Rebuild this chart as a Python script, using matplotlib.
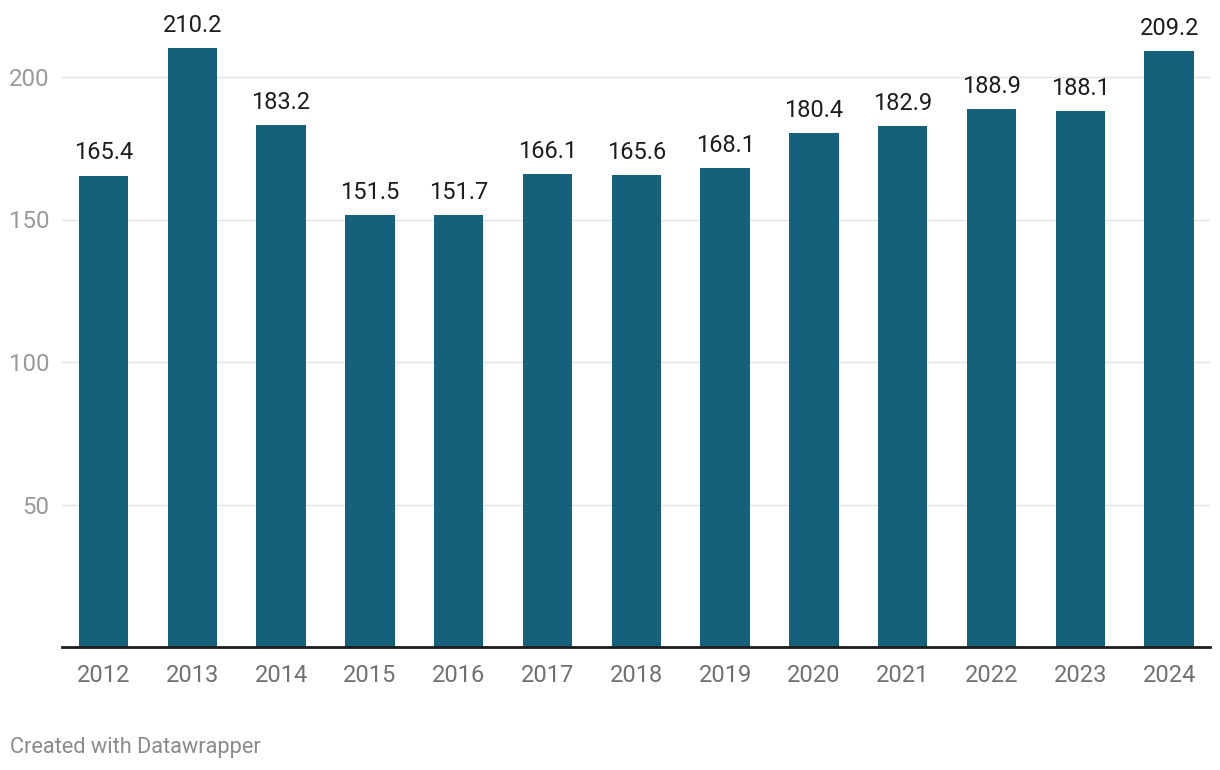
import matplotlib
matplotlib.use("Agg")
from matplotlib import pyplot as plt

# data
years = ["2012", "2013", "2014", "2015", "2016", "2017", "2018",
         "2019", "2020", "2021", "2022", "2023", "2024"]
values = [165.4, 210.2, 183.2, 151.5, 151.7, 166.1, 165.6,
          168.1, 180.4, 182.9, 188.9, 188.1, 209.2]
yticks = [50, 100, 150, 200]

plt.rcParams['font.family'] = ['Roboto', 'DejaVu Sans']

fig = plt.figure(figsize=(12.2, 7.7), dpi=100)
ax = fig.add_axes([62 / 1220, 123 / 770, 1148 / 1220, 627 / 770])

x = list(range(len(years)))
ax.bar(x, values, width=0.557, color='#15607a', zorder=3)

for xi, v in zip(x, values):
    ax.annotate(f"{v:.1f}", (xi, v), xytext=(0, 8), textcoords='offset points',
                ha='center', va='bottom', fontsize=17, color='#1d1d1d')

ax.set_xlim(-0.467, 12.46)
ax.set_ylim(0, 220)
ax.set_yticks(yticks)
ax.set_xticks(x)
ax.set_xticklabels(years)
ax.grid(axis='y', color='#e2e2e2', linewidth=1, zorder=0)

for s in ['top', 'right', 'left']:
    ax.spines[s].set_visible(False)
ax.spines['bottom'].set_color('#1d1d1d')
ax.spines['bottom'].set_linewidth(2)
ax.spines['bottom'].set_zorder(4)

ax.tick_params(axis='x', length=0, pad=12, labelsize=17, labelcolor='#707070')
ax.tick_params(axis='y', length=0, pad=9, labelsize=17.3, labelcolor='#9a9a9a')

fig.text(10 / 1220, 1 - 753 / 770, "Created with Datawrapper",
         fontsize=15.7, color='#8a8a8a', ha='left', va='baseline')

fig.savefig("out.png", dpi=100)
